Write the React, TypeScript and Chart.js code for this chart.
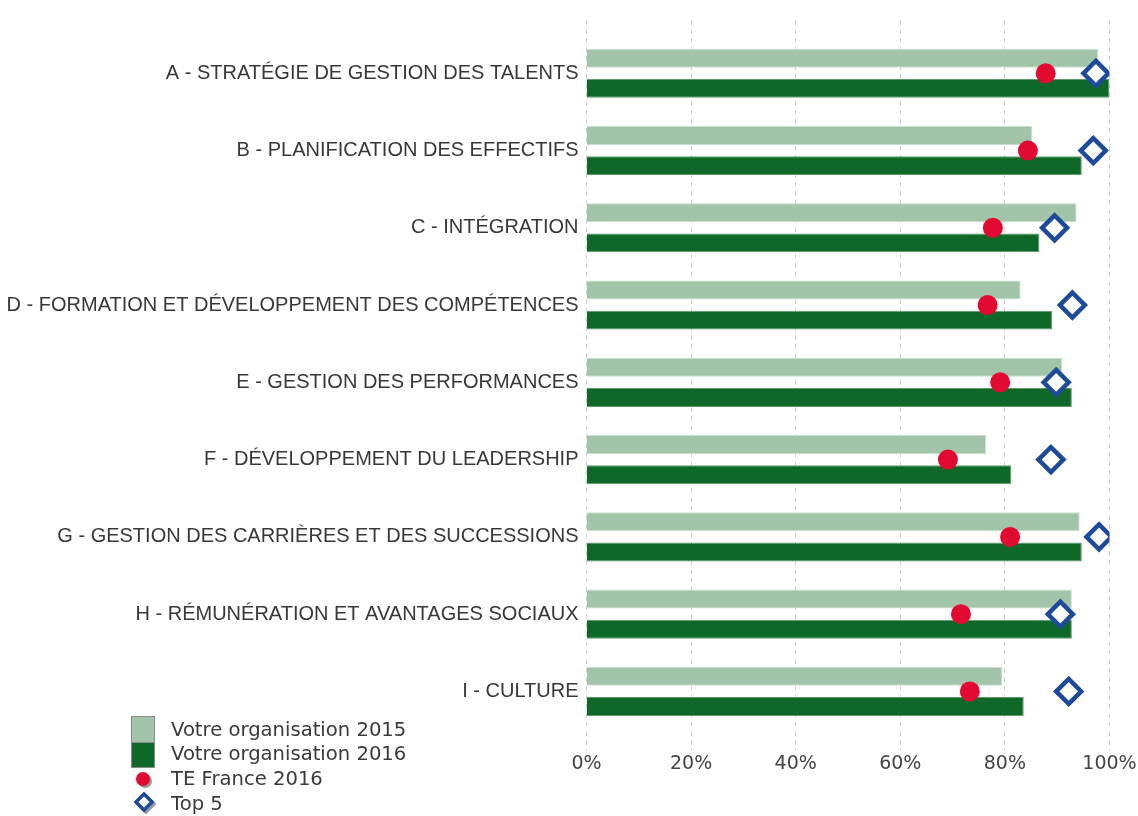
import React, { useEffect, useRef } from "react";
import { Chart, registerables } from "chart.js";

Chart.register(...registerables);

const categories = [
  "A - STRATÉGIE DE GESTION DES TALENTS",
  "B - PLANIFICATION DES EFFECTIFS",
  "C - INTÉGRATION",
  "D - FORMATION ET DÉVELOPPEMENT DES COMPÉTENCES",
  "E - GESTION DES PERFORMANCES",
  "F - DÉVELOPPEMENT DU LEADERSHIP",
  "G - GESTION DES CARRIÈRES ET DES SUCCESSIONS",
  "H - RÉMUNÉRATION ET AVANTAGES SOCIAUX",
  "I - CULTURE",
];
const org2015 = [97.8, 85.2, 93.7, 83.0, 91.0, 76.4, 94.3, 92.8, 79.5];
const org2016 = [100, 94.7, 86.6, 89.0, 92.8, 81.2, 94.7, 92.8, 83.6];
const teFrance2016 = [87.8, 84.4, 77.7, 76.7, 79.1, 69.1, 81.0, 71.6, 73.3];
const top5 = [97.4, 96.9, 89.5, 92.9, 89.8, 88.8, 98.0, 90.6, 92.2];
const xTicks = [0, 20, 40, 60, 80, 100];

const seriesNames = [
  "Votre organisation 2015",
  "Votre organisation 2016",
  "TE France 2016",
  "Top 5",
];

const LIGHT = "#a2c5a9";
const DARK = "#0e6828";
const RED = "#e30a31";
const BLUE = "#1d4a9a";

function Legend() {
  const rowStyle: React.CSSProperties = {
    position: "absolute",
    left: 171,
    fontFamily: "'DejaVu Sans', sans-serif",
    fontSize: 19.6,
    color: "#3a3a3a",
    lineHeight: "24px",
    whiteSpace: "nowrap",
  };
  return (
    <div style={{ position: "absolute", left: 0, top: 0, width: 1138, height: 816, pointerEvents: "none" }}>
      <div style={{ position: "absolute", left: 131, top: 716, width: 22, height: 25, background: LIGHT, border: "1px solid #8a8a8a", borderBottom: "none" }} />
      <div style={{ position: "absolute", left: 131, top: 742, width: 22, height: 24, background: DARK, border: "1px solid #8a8a8a" }} />
      <svg style={{ position: "absolute", left: 130, top: 768 }} width="30" height="48">
        <circle cx="15" cy="13" r="7" fill="#9a9a9a" />
        <circle cx="13" cy="11" r="7" fill={RED} />
        <path d="M16 28 L24 36 L16 44 L8 36 Z" fill="none" stroke="#9a9a9a" strokeWidth="3.5" />
        <path d="M14 26 L22 34 L14 42 L6 34 Z" fill="#fff" stroke={BLUE} strokeWidth="3.5" />
      </svg>
      <div style={{ ...rowStyle, top: 718 }}>{seriesNames[0]}</div>
      <div style={{ ...rowStyle, top: 742 }}>{seriesNames[1]}</div>
      <div style={{ ...rowStyle, top: 767 }}>{seriesNames[2]}</div>
      <div style={{ ...rowStyle, top: 792 }}>{seriesNames[3]}</div>
    </div>
  );
}

export default function App() {
  const ref = useRef<HTMLCanvasElement>(null);

  useEffect(() => {
    if (!ref.current) return;
    const chart = new Chart(ref.current, {
      type: "bar",
      data: {
        datasets: [
          {
            type: "scatter",
            label: seriesNames[3],
            data: top5.map((v, i) => ({ x: v, y: i })),
            pointStyle: "rectRot",
            pointRadius: 12.5,
            pointBorderWidth: 4.5,
            pointBackgroundColor: "#ffffff",
            pointBorderColor: BLUE,
            showLine: false,
            order: 0,
          } as any,
          {
            type: "scatter",
            label: seriesNames[2],
            data: teFrance2016.map((v, i) => ({ x: v, y: i })),
            pointStyle: "circle",
            pointRadius: 10,
            pointBorderWidth: 0,
            pointBackgroundColor: RED,
            pointBorderColor: RED,
            showLine: false,
            order: 1,
          } as any,
          {
            type: "bar",
            label: seriesNames[0],
            indexAxis: "y",
            data: org2015.map((v, i) => ({ x: v, y: i })),
            backgroundColor: LIGHT,
            borderColor: "#c9ddcd",
            borderWidth: 1,
            categoryPercentage: 0.779,
            barPercentage: 0.63,
            order: 2,
          } as any,
          {
            type: "bar",
            label: seriesNames[1],
            indexAxis: "y",
            data: org2016.map((v, i) => ({ x: v, y: i })),
            backgroundColor: DARK,
            borderColor: "#5c9a6c",
            borderWidth: 1,
            categoryPercentage: 0.779,
            barPercentage: 0.63,
            order: 2,
          } as any,
        ],
      },
      options: {
        responsive: false,
        animation: false,
        events: [],
        layout: { padding: { left: 0, right: 28.5, top: 3, bottom: 40 } },
        plugins: {
          legend: { display: false },
          tooltip: { enabled: false },
        },
        scales: {
          x: {
            type: "linear",
            position: "bottom",
            offset: false,
            min: 0,
            max: 100,
            afterBuildTicks: (scale: any) => {
              scale.ticks = xTicks.map((v) => ({ value: v }));
            },
            ticks: {
              callback: (v: any) => v + "%",
              font: { family: "'DejaVu Sans', sans-serif", size: 19 },
              color: "#444",
              padding: 1,
              maxRotation: 0,
            },
            grid: {
              offset: false,
              color: "#d4d4d4",
              lineWidth: 1,
              drawTicks: false,
            },
            border: { display: false, dash: [5, 4] },
          },
          y: {
            type: "linear",
            position: "left",
            offset: false,
            reverse: true,
            min: -0.69,
            max: 8.774,
            afterBuildTicks: (scale: any) => {
              scale.ticks = categories.map((_, i) => ({ value: i }));
            },
            afterFit: (scale: any) => {
              scale.width = 586.5;
            },
            ticks: {
              autoSkip: false,
              callback: (v: any) => categories[v as number] ?? "",
              font: { family: "'Liberation Sans', sans-serif", size: 20 },
              color: "#383838",
              padding: 8,
            },
            grid: { display: false, offset: false, drawTicks: false },
            border: { display: false },
          },
        },
      } as any,
    });
    return () => chart.destroy();
  }, []);

  return (
    <div style={{ position: "absolute", left: 0, top: 0, width: 1138, height: 816, background: "#fff" }}>
      <canvas ref={ref} width={1138} height={816} style={{ display: "block" }} />
      <Legend />
    </div>
  );
}
